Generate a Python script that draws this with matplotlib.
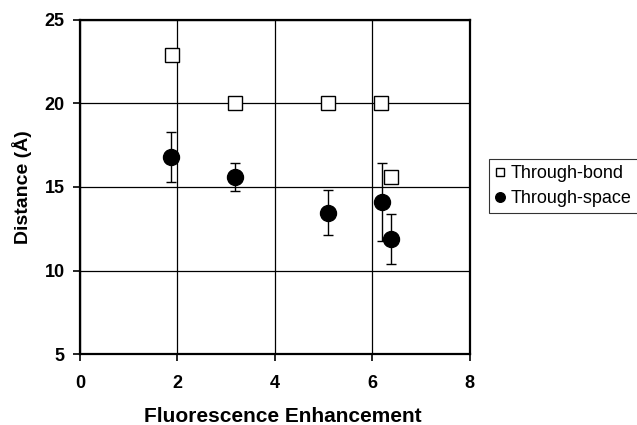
import matplotlib
matplotlib.use("Agg")
import matplotlib.pyplot as plt

plt.rcParams["font.family"] = ["Liberation Sans", "DejaVu Sans"]

# Through-bond (open squares)
bond_x = [1.89, 3.18, 5.08, 6.17, 6.38]
bond_y = [22.9, 20.0, 20.0, 20.0, 15.6]

# Through-space (filled circles, with error bars)
space_x = [1.87, 3.18, 5.09, 6.19, 6.38]
space_y = [16.8, 15.6, 13.45, 14.1, 11.9]
space_err = [1.5, 0.85, 1.35, 2.35, 1.5]

x_ticks = [0, 2, 4, 6, 8]
y_ticks = [5, 10, 15, 20, 25]

fig = plt.figure(figsize=(6.37, 4.25), dpi=100)
ax = fig.add_axes([0.1256, 0.167, 0.612, 0.786])

ax.set_xlim(0, 8)
ax.set_ylim(5, 25)
ax.set_xticks(x_ticks)
ax.set_yticks(y_ticks)
ax.grid(True, color="black", linewidth=0.9)
ax.set_axisbelow(True)

ax.errorbar(space_x, space_y, yerr=space_err, fmt="none", ecolor="black",
            elinewidth=1.0, capsize=3.5, capthick=1.0, zorder=3)
ax.plot(bond_x, bond_y, linestyle="none", marker="s", markersize=10,
        markerfacecolor="white", markeredgecolor="black", markeredgewidth=1.0,
        label="Through-bond", zorder=4)
ax.plot(space_x, space_y, linestyle="none", marker="o", markersize=11.5,
        color="black", label="Through-space", zorder=5)

for side in ["left", "bottom", "top", "right"]:
    ax.spines[side].set_linewidth(1.6)

ax.tick_params(direction="out", length=5, width=1.2, labelsize=13)
ax.tick_params(axis="x", pad=10)
ax.tick_params(axis="y", pad=6)
for lbl in ax.get_xticklabels() + ax.get_yticklabels():
    lbl.set_fontweight("bold")

# x label placed by hand so it sits near the bottom edge like the original
fig.text(283 / 637, 3 / 425, "Fluorescence Enhancement", fontsize=15,
         fontweight="bold", ha="center", va="baseline")
ax.set_ylabel("Distance (Å)", fontsize=14, fontweight="bold", labelpad=9)

leg = ax.legend(loc="center left", bbox_to_anchor=(1.049, 0.503),
                fontsize=13, frameon=True, fancybox=False, markerscale=0.6,
                handlelength=0.55, handletextpad=0.3, borderpad=0.35,
                labelspacing=0.45, borderaxespad=0)
leg.get_frame().set_edgecolor("black")
leg.get_frame().set_linewidth(0.8)

fig.savefig("out.png", dpi=100)
